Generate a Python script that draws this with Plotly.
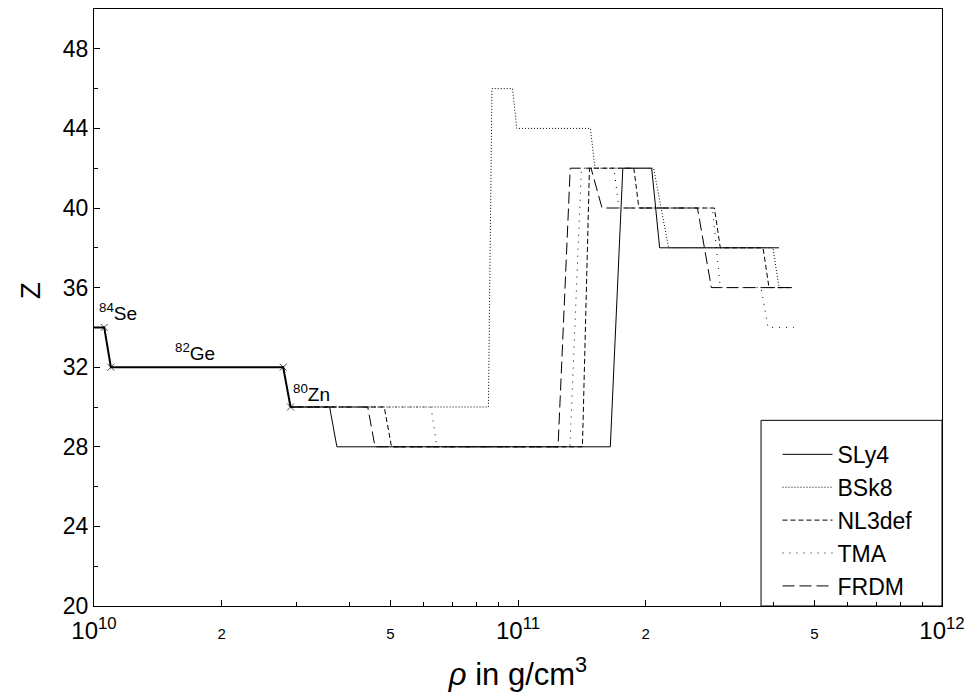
import plotly.graph_objects as go

# ---- data (density in g/cm^3, Z) ----
common_rho = [1.0e10, 1.057e10, 1.096e10, 2.794e10, 2.908e10]
common_Z = [34, 34, 32, 32, 30]

sly4_rho = [2.908e10, 3.595e10, 3.740e10, 1.651e11, 1.767e11, 2.067e11, 2.158e11, 4.126e11]
sly4_Z = [30, 30, 28, 28, 42, 42, 38, 38]

bsk8_rho = [2.908e10, 8.515e10, 8.682e10, 9.707e10, 9.935e10, 1.482e11, 1.519e11,
            2.089e11, 2.265e11, 3.994e11, 4.126e11, 4.474e11]
bsk8_Z = [30, 30, 46, 46, 44, 44, 42, 42, 38, 38, 36, 36]

nl3def_rho = [2.908e10, 4.837e10, 5.031e10, 1.419e11, 1.474e11, 1.876e11, 1.928e11,
              2.905e11, 3.000e11, 3.784e11, 3.908e11, 4.474e11]
nl3def_Z = [30, 30, 28, 28, 42, 42, 40, 40, 38, 38, 36, 36]

tma_rho = [2.908e10, 6.235e10, 6.440e10, 1.326e11, 1.411e11, 1.684e11, 1.729e11,
           2.874e11, 3.000e11, 3.743e11, 3.887e11, 4.474e11]
tma_Z = [30, 30, 28, 28, 42, 42, 40, 40, 36, 36, 34, 34]

frdm_rho = [2.908e10, 4.421e10, 4.601e10, 1.243e11, 1.328e11, 1.487e11, 1.578e11,
            2.650e11, 2.858e11, 4.474e11]
frdm_Z = [30, 30, 28, 28, 42, 42, 40, 40, 36, 36]

model_names = ["SLy4", "BSk8", "NL3def", "TMA", "FRDM"]

x_tick_vals = [1e10, 2e10, 5e10, 1e11, 2e11, 5e11, 1e12]
x_tick_text = ["10<sup>10</sup>", "<span style='font-size:15px'>2</span>",
               "<span style='font-size:15px'>5</span>", "10<sup>11</sup>",
               "<span style='font-size:15px'>2</span>", "<span style='font-size:15px'>5</span>",
               "10<sup>12</sup>"]
x_minor_vals = [3e10, 4e10, 6e10, 7e10, 8e10, 9e10, 3e11, 4e11, 6e11, 7e11, 8e11, 9e11]
y_tick_vals = [20, 24, 28, 32, 36, 40, 44, 48]

nuclei_labels = ["<sup>84</sup>Se", "<sup>82</sup>Ge", "<sup>80</sup>Zn"]
nuclei_logrho = [10.056, 10.239, 10.512]
nuclei_Z = [34.77, 32.76, 30.69]

FONT = "Liberation Sans, Arial, Helvetica, sans-serif"

fig = go.Figure()

series = [
    (sly4_rho, sly4_Z, "solid"),
    (bsk8_rho, bsk8_Z, "1px,2px"),
    (nl3def_rho, nl3def_Z, "5px,3px"),
    (tma_rho, tma_Z, "1px,6px"),
    (frdm_rho, frdm_Z, "12px,5px"),
]
for name, (xs, ys, dash) in zip(model_names, series):
    fig.add_trace(go.Scatter(x=xs, y=ys, mode="lines", name=name,
                             line=dict(color="black", width=1, dash=dash)))

fig.add_trace(go.Scatter(x=common_rho, y=common_Z, mode="lines+markers", showlegend=False,
                         line=dict(color="black", width=2),
                         marker=dict(symbol="x-thin-open", size=[0, 7, 7, 7, 7],
                                     color="black", line=dict(color="black", width=1))))

for t, xr, zz in zip(nuclei_labels, nuclei_logrho, nuclei_Z):
    fig.add_annotation(x=xr, y=zz, xref="x", yref="y", text=t, showarrow=False,
                       font=dict(family=FONT, size=19, color="black"))

fig.add_annotation(x=-0.075, y=0.528, xref="paper", yref="paper", text="Z", textangle=-90,
                   xanchor="center", yanchor="middle",
                   showarrow=False, font=dict(family=FONT, size=28, color="black"))

# legend frame
fig.add_shape(type="rect", xref="paper", yref="paper", x0=0.7866, x1=1.0, y0=0.0, y1=0.311,
              line=dict(color="black", width=1), fillcolor="rgba(0,0,0,0)")

fig.update_layout(
    width=973, height=699,
    margin=dict(l=94, r=26, t=8, b=93),
    paper_bgcolor="white", plot_bgcolor="white",
    font=dict(family=FONT, color="black"),
    showlegend=True,
    legend=dict(x=0.806, y=0.29, xanchor="left", yanchor="top",
                bgcolor="rgba(0,0,0,0)", borderwidth=0,
                font=dict(family=FONT, size=23, color="black"),
                itemwidth=50),
    xaxis=dict(type="log", range=[10, 12], showline=True, linecolor="black", linewidth=1,
               mirror=True, ticks="inside", ticklen=6, tickcolor="black",
               tickvals=x_tick_vals, ticktext=x_tick_text,
               tickfont=dict(family=FONT, size=24, color="black"),
               ticklabelstandoff=3,
               showgrid=False, zeroline=False,
               minor=dict(tickvals=x_minor_vals, ticks="inside", ticklen=4, tickcolor="black"),
               title=dict(text="<i>ρ</i> in g/cm<sup>3</sup>",
                          font=dict(family=FONT, size=31, color="black"), standoff=20)),
    yaxis=dict(range=[20, 50], showline=True, linecolor="black", linewidth=1, mirror=True,
               ticks="inside", ticklen=6, tickcolor="black", tickvals=y_tick_vals,
               tickfont=dict(family=FONT, size=23, color="black"),
               showgrid=False, zeroline=False,
               minor=dict(dtick=2, tick0=20, ticks="inside", ticklen=4, tickcolor="black")),
)

fig.write_html("out.html")
